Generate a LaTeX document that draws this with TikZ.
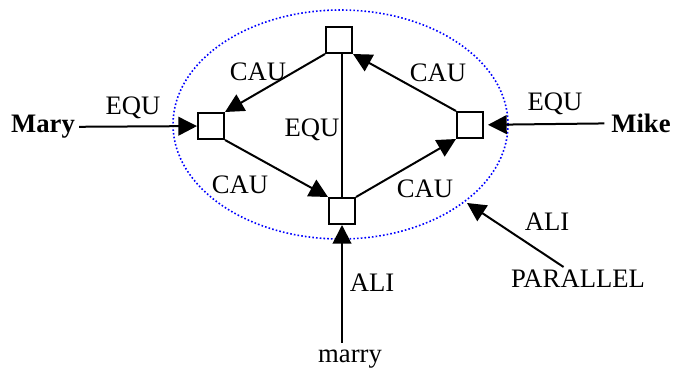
\documentclass[tikz,border=0pt]{standalone}
\usepackage{fontspec}
\setmainfont{Liberation Serif}
\usetikzlibrary{arrows.meta}

\begin{document}
\begin{tikzpicture}[x=0.75pt, y=-0.75pt,
        casella/.style={draw, line width=1.5pt, minimum size=19.5pt, inner sep=0pt},
        testo/.style={font=\fontsize{20}{24}\selectfont, inner sep=0pt},
        freccia/.style={-{Triangle[length=14pt,width=14pt]}, line width=1.5pt}]
        \useasboundingbox (0,0) rectangle (673,371);
        % Ellisse
        \draw[blue, line width=1.2pt, dash pattern=on 1.2pt off 1.6pt] (340.5,124.5) ellipse [x radius=167.5, y radius=114.5];
        % Caselle
        \node[casella] (alto) at (339,40) {};
        \node[casella] (sin) at (211,126) {};
        \node[casella] (des) at (470,125) {};
        \node[casella] (basso) at (342,211) {};
        % Nomi esterni
        \node[testo] (mary) at (43,127) {\bfseries Mary};
        \node[testo] (mike) at (641,123) {\bfseries Mike};
        \node[testo] (marry) at (350,359) {marry};
        \node[testo] (par) at (578,279) {PARALLEL};
        \coordinate (punta) at (467,203);
        % Frecce interne
        \draw[freccia] (alto.south west) -- (sin.north east);
        \draw[freccia] (des.north west) -- (alto.south east);
        \draw[freccia] (sin.south east) -- (basso.north west);
        \draw[freccia] (basso.north east) -- (des.south west);
        \draw[line width=1.5pt] (alto.south -| basso) -- (basso.north);
        % Frecce esterne
        \draw[freccia, shorten <=3pt] (mary) -- (sin);
        \draw[freccia, shorten <=5pt, shorten >=3pt] (mike) -- (des);
        \draw[freccia, shorten <=5pt] (marry.north -| basso) -- (basso);
        \draw[freccia, shorten <=4pt] ([xshift=-7.5pt]par.north) -- (punta);
        % Etichette
        \node[testo] at (133,108) {EQU};
        \node[testo] at (555,104) {EQU};
        \node[testo] at (312,130) {EQU};
        \node[testo] at (258,72) {CAU};
        \node[testo] at (438,73) {CAU};
        \node[testo] at (240,185) {CAU};
        \node[testo] at (425,189) {CAU};
        \node[testo] at (372,283) {ALI};
        \node[testo] at (547,222) {ALI};
    \end{tikzpicture}
\end{document}
